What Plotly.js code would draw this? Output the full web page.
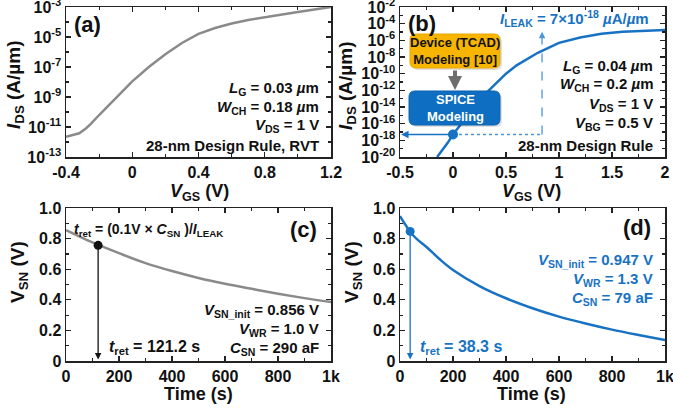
<!DOCTYPE html>
<html><head><meta charset="utf-8">
<script src="https://cdn.plot.ly/plotly-3.0.1.min.js"></script>
<style>html,body{margin:0;padding:0;background:#fff}#chart{width:673px;height:410px}</style>
</head><body><div id="chart"></div>
<script>
// ---- data ----
const vgsA = [-0.4, -0.32, -0.28, -0.25, -0.2, -0.1, 0, 0.1, 0.2, 0.3, 0.4, 0.5, 0.6, 0.7, 0.8, 0.9, 1.0, 1.1, 1.2];
const idsA = [2.2e-12, 3.8e-12, 7.9e-12, 1.6e-11, 6.3e-11, 8.9e-10, 1.1e-8, 1.0e-7, 7.1e-7, 4.0e-6, 1.6e-5, 4.0e-5, 7.9e-5, 1.35e-4, 2.1e-4, 3.2e-4, 4.7e-4, 6.9e-4, 1.0e-3];
const vgsB = [-0.15, -0.1, -0.05, 0, 0.1, 0.2, 0.3, 0.4, 0.5, 0.6, 0.7, 0.8, 0.9, 1.0, 1.2, 1.4, 1.6, 1.8, 2.0];
const idsB = [1e-20, 6.3e-20, 5e-19, 5e-18, 2.5e-16, 1e-14, 3.2e-13, 6.3e-12, 1e-10, 1e-9, 6.3e-9, 3.2e-8, 1.26e-7, 5e-7, 2.2e-6, 6.3e-6, 1.05e-5, 1.4e-5, 1.75e-5];
const leakVgs = [0];
const leakIds = [5e-18];
const leakGuideVgs = [0.84];
const leakGuideTopIds = [1.1e-5];
const timeC = [0, 100, 200, 300, 400, 500, 600, 700, 800, 900, 1000];
const vsnC = [0.856, 0.775, 0.705, 0.64, 0.588, 0.543, 0.505, 0.472, 0.44, 0.411, 0.385];
const tRetC = [121.2];
const vRetC = [0.756];
const timeD = [0, 50, 100, 150, 200, 300, 400, 500, 600, 700, 800, 900, 1000];
const vsnD = [0.947, 0.82, 0.745, 0.665, 0.595, 0.49, 0.41, 0.345, 0.29, 0.245, 0.205, 0.17, 0.137];
const tRetD = [38.3];
const vRetD = [0.847];

const xTicksA = [-0.4, 0, 0.4, 0.8, 1.2];
const xTickTextA = ['-0.4', '0', '0.4', '0.8', '1.2'];
const yExpA = [-13, -11, -9, -7, -5, -3];
const xTicksB = [-0.5, 0, 0.5, 1, 1.5, 2];
const xTickTextB = ['-0.5', '0', '0.5', '1', '1.5', '2'];
const yExpB = [-20, -18, -16, -14, -12, -10, -8, -6, -4, -2];
const tTicks = [0, 200, 400, 600, 800, 1000];
const tTickText = ['0', '200', '400', '600', '800', '1k'];
const vTicks = [0, 0.2, 0.4, 0.6, 0.8, 1.0];
const vTickText = ['0', '0.2', '0.4', '0.6', '0.8', '1.0'];

// ---- styling ----
const F = 'Liberation Sans, Arial, sans-serif';
const GRAY = '#8a8a8a', BLUE = '#1872c4', LBLUE = '#4a98dc', BLK = '#111';
const W = 673, H = 410;
const px = x => x / W, py = y => 1 - y / H;
const pow10 = e => Number('1e' + e);

function decadeVals(lo, hi) { const v = []; for (let e = lo; e <= hi; e++) v.push(pow10(e)); return v; }
function ax(extra) {
  return Object.assign({
    showline: true, linecolor: '#222', linewidth: 1.5, mirror: 'allticks',
    ticks: 'inside', ticklen: 5, tickwidth: 1.2, tickcolor: '#222',
    tickfont: {family: F, size: 16, color: BLK, weight: 'bold'},
    ticklabeloverflow: 'allow',
    showgrid: false, zeroline: false, fixedrange: true, tickmode: 'array'
  }, extra);
}
const mn = o => Object.assign({ticks: 'inside', ticklen: 3, tickcolor: '#222'}, o);

const traces = [
  {x: vgsA, y: idsA, xaxis: 'x', yaxis: 'y', mode: 'lines', line: {color: GRAY, width: 2.5}},
  {x: vgsB, y: idsB, xaxis: 'x2', yaxis: 'y2', mode: 'lines', line: {color: BLUE, width: 2.5}},
  {x: [leakVgs[0], leakGuideVgs[0]], y: [leakIds[0], leakIds[0]], xaxis: 'x2', yaxis: 'y2', mode: 'lines', line: {color: LBLUE, width: 1.5, dash: 'dot'}},
  {x: [leakGuideVgs[0], leakGuideVgs[0]], y: [leakIds[0], leakGuideTopIds[0]], xaxis: 'x2', yaxis: 'y2', mode: 'lines', line: {color: LBLUE, width: 1.3, dash: 'dash'}},
  {x: leakVgs, y: leakIds, xaxis: 'x2', yaxis: 'y2', mode: 'markers', marker: {color: BLUE, size: 10}},
  {x: timeC, y: vsnC, xaxis: 'x3', yaxis: 'y3', mode: 'lines', line: {color: GRAY, width: 2.5, shape: 'spline'}},
  {x: tRetC, y: vRetC, xaxis: 'x3', yaxis: 'y3', mode: 'markers', marker: {color: BLK, size: 9}},
  {x: timeD, y: vsnD, xaxis: 'x4', yaxis: 'y4', mode: 'lines', line: {color: BLUE, width: 2.5, shape: 'spline'}},
  {x: tRetD, y: vRetD, xaxis: 'x4', yaxis: 'y4', mode: 'markers', marker: {color: BLUE, size: 9}}
];

const xdomL = [px(66), px(331)], xdomR = [px(400), px(665)];
const ydomT = [py(157), py(7)], ydomB = [py(361), py(208)];

const layout = {
  width: W, height: H, margin: {l: 0, r: 0, t: 0, b: 0},
  paper_bgcolor: '#fff', plot_bgcolor: '#fff', showlegend: false,
  font: {family: F, color: BLK},
  xaxis: ax({domain: xdomL, anchor: 'y', range: [-0.4, 1.2], tickvals: xTicksA, ticktext: xTickTextA,
    minor: mn({dtick: 0.2, tick0: 0})}),
  yaxis: ax({domain: ydomT, anchor: 'x', type: 'log', range: [-13, -3],
    tickvals: yExpA.map(pow10), ticktext: yExpA.map(e => '10<sup>' + e + '</sup>'),
    minor: mn({tickmode: 'array', tickvals: decadeVals(-13, -3)})}),
  xaxis2: ax({domain: xdomR, anchor: 'y2', range: [-0.5, 2], tickvals: xTicksB, ticktext: xTickTextB,
    minor: mn({dtick: 0.25, tick0: 0})}),
  yaxis2: ax({domain: ydomT, anchor: 'x2', type: 'log', range: [-20, -2],
    tickvals: yExpB.map(pow10), ticktext: yExpB.map(e => '10<sup>' + e + '</sup>'),
    minor: mn({tickmode: 'array', tickvals: decadeVals(-20, -2)})}),
  xaxis3: ax({domain: xdomL, anchor: 'y3', range: [0, 1000], tickvals: tTicks, ticktext: tTickText,
    minor: mn({dtick: 100, tick0: 0})}),
  yaxis3: ax({domain: ydomB, anchor: 'x3', range: [0, 1], tickvals: vTicks, ticktext: vTickText,
    minor: mn({dtick: 0.1, tick0: 0})}),
  xaxis4: ax({domain: xdomR, anchor: 'y4', range: [0, 1000], tickvals: tTicks, ticktext: tTickText,
    minor: mn({dtick: 100, tick0: 0})}),
  yaxis4: ax({domain: ydomB, anchor: 'x4', range: [0, 1], tickvals: vTicks, ticktext: vTickText,
    minor: mn({dtick: 0.1, tick0: 0})})
};

function roundRect(x0, y0, x1, y1, r) {
  const X = v => px(v).toFixed(5), Y = v => py(v).toFixed(5);
  return 'M' + X(x0 + r) + ',' + Y(y0) + ' L' + X(x1 - r) + ',' + Y(y0) +
    ' Q' + X(x1) + ',' + Y(y0) + ' ' + X(x1) + ',' + Y(y0 + r) +
    ' L' + X(x1) + ',' + Y(y1 - r) + ' Q' + X(x1) + ',' + Y(y1) + ' ' + X(x1 - r) + ',' + Y(y1) +
    ' L' + X(x0 + r) + ',' + Y(y1) + ' Q' + X(x0) + ',' + Y(y1) + ' ' + X(x0) + ',' + Y(y1 - r) +
    ' L' + X(x0) + ',' + Y(y0 + r) + ' Q' + X(x0) + ',' + Y(y0) + ' ' + X(x0 + r) + ',' + Y(y0) + ' Z';
}
layout.shapes = [
  {type: 'path', xref: 'paper', yref: 'paper', path: roundRect(412, 36, 502, 70, 6), fillcolor: 'rgba(0,0,0,0.12)', line: {width: 0}, layer: 'above'},
  {type: 'path', xref: 'paper', yref: 'paper', path: roundRect(410, 34, 500, 68, 6), fillcolor: '#f7b500', line: {color: '#e9a800', width: 1}, layer: 'above'},
  {type: 'path', xref: 'paper', yref: 'paper', path: roundRect(411, 93, 502, 127, 6), fillcolor: 'rgba(0,0,0,0.12)', line: {width: 0}, layer: 'above'},
  {type: 'path', xref: 'paper', yref: 'paper', path: roundRect(409, 91, 500, 125, 6), fillcolor: '#0e6ec2', line: {color: '#0b62ad', width: 1}, layer: 'above'}
];

function txt(x, y, t, o) {
  return Object.assign({xref: 'paper', yref: 'paper', x: px(x), y: py(y), text: t, showarrow: false,
    xanchor: 'right', yanchor: 'middle', font: {family: F, size: 15, color: BLK, weight: 'bold'}}, o || {});
}
const titleFont = {family: F, size: 18, color: BLK, weight: 'bold'};
const xt = (x, y, t) => txt(x, y, t, {xanchor: 'center', font: titleFont});
const yt = (x, y, t) => txt(x, y, t, {xanchor: 'center', textangle: -90, font: {family: F, size: 19, color: BLK, weight: 'bold'}});
const blueFont = {family: F, size: 15, color: BLUE, weight: 'bold'};
layout.annotations = [
  // axis titles
  yt(15, 85, '<i>I</i><sub>DS</sub> (A/µm)'),
  xt(199, 192, '<i>V</i><sub>GS</sub> (V)'),
  yt(347, 85, '<i>I</i><sub>DS</sub> (A/µm)'),
  xt(531, 192, '<i>V</i><sub>GS</sub> (V)'),
  yt(19, 272, 'V<sub>SN</sub> (V)'),
  xt(198, 394, 'Time (s)'),
  yt(353, 272, 'V<sub>SN</sub> (V)'),
  xt(531, 394, 'Time (s)'),

  txt(72, 24, '(a)', {xanchor: 'left', font: {family: F, size: 22, color: BLK, weight: 'bold'}}),
  txt(321, 89, '<i>L</i><sub>G</sub> = 0.03 <i>µ</i>m'),
  txt(321, 107, '<i>W</i><sub>CH</sub> = 0.18 <i>µ</i>m'),
  txt(321, 125, '<i>V</i><sub>DS</sub> = 1 V'),
  txt(321, 145, '28-nm Design Rule, RVT'),

  txt(406, 23, '(b)', {xanchor: 'left', font: {family: F, size: 22, color: BLK, weight: 'bold'}}),
  txt(651, 18, '<i>I</i><sub>LEAK</sub> = 7×10<sup>-18</sup> <i>µ</i>A/<i>µ</i>m', {font: blueFont}),
  txt(655, 66, '<i>L</i><sub>G</sub> = 0.04 <i>µ</i>m'),
  txt(655, 85, '<i>W</i><sub>CH</sub> = 0.2 <i>µ</i>m'),
  txt(655, 104, '<i>V</i><sub>DS</sub> = 1 V'),
  txt(655, 123, '<i>V</i><sub>BG</sub> = 0.5 V'),
  txt(655, 145, '28-nm Design Rule'),
  txt(455, 51, 'Device (TCAD)<br>Modeling [10]', {xanchor: 'center', font: {family: F, size: 13, color: BLK, weight: 'bold'}}),
  txt(455, 108, 'SPICE<br>Modeling', {xanchor: 'center', font: {family: F, size: 13, color: '#fff', weight: 'bold'}}),
  {xref: 'paper', yref: 'paper', x: px(455), y: py(90), ax: 0, ay: -21, text: '', showarrow: true,
    arrowhead: 2, arrowsize: 0.7, arrowwidth: 4, arrowcolor: '#6e6e6e'},
  {xref: 'x2', yref: 'y2', x: -0.49, y: Math.log10(leakIds[0]), axref: 'x2', ayref: 'y2', ax: leakVgs[0], ay: Math.log10(leakIds[0]),
    text: '', showarrow: true, arrowhead: 2, arrowsize: 1, arrowwidth: 1.5, arrowcolor: BLUE},
  {xref: 'x2', yref: 'y2', x: leakGuideVgs[0], y: Math.log10(leakGuideTopIds[0]), axref: 'x2', ayref: 'y2', ax: leakGuideVgs[0], ay: Math.log10(leakGuideTopIds[0]) - 0.6,
    text: '', showarrow: true, arrowhead: 2, arrowsize: 1, arrowwidth: 1.3, arrowcolor: LBLUE},

  txt(303, 229, '(c)', {xanchor: 'center', font: {family: F, size: 22, color: BLK, weight: 'bold'}}),
  txt(72, 230, '<i>t</i><sub>ret</sub> = (0.1V × <i>C</i><sub>SN</sub> )/<i>I</i><sub>LEAK</sub>', {xanchor: 'left', font: {family: F, size: 14, color: BLK, weight: 'bold'}}),
  txt(107, 347, '<i>t</i><sub>ret</sub> = 121.2 s', {xanchor: 'left', font: {family: F, size: 16, color: BLK, weight: 'bold'}}),
  txt(321, 310, '<i>V</i><sub>SN_init</sub> = 0.856 V'),
  txt(321, 329, '<i>V</i><sub>WR</sub> = 1.0 V'),
  txt(321, 348, '<i>C</i><sub>SN</sub> = 290 aF'),
  {xref: 'x3', yref: 'y3', x: tRetC[0], y: 0.01, axref: 'x3', ayref: 'y3', ax: tRetC[0], ay: vRetC[0],
    text: '', showarrow: true, arrowhead: 2, arrowsize: 1, arrowwidth: 1.3, arrowcolor: BLK},

  txt(637, 227, '(d)', {xanchor: 'center', font: {family: F, size: 22, color: BLK, weight: 'bold'}}),
  txt(655, 260, '<i>V</i><sub>SN_init</sub> = 0.947 V', {font: blueFont}),
  txt(655, 279, '<i>V</i><sub>WR</sub> = 1.3 V', {font: blueFont}),
  txt(655, 298, '<i>C</i><sub>SN</sub> = 79 aF', {font: blueFont}),
  txt(418, 347, '<i>t</i><sub>ret</sub> = 38.3 s', {xanchor: 'left', font: {family: F, size: 16, color: BLUE, weight: 'bold'}}),
  {xref: 'x4', yref: 'y4', x: tRetD[0], y: 0.01, axref: 'x4', ayref: 'y4', ax: tRetD[0], ay: vRetD[0],
    text: '', showarrow: true, arrowhead: 2, arrowsize: 1, arrowwidth: 1.3, arrowcolor: BLUE}
];

Plotly.newPlot('chart', traces, layout, {staticPlot: true, displayModeBar: false});
</script>
</body></html>
